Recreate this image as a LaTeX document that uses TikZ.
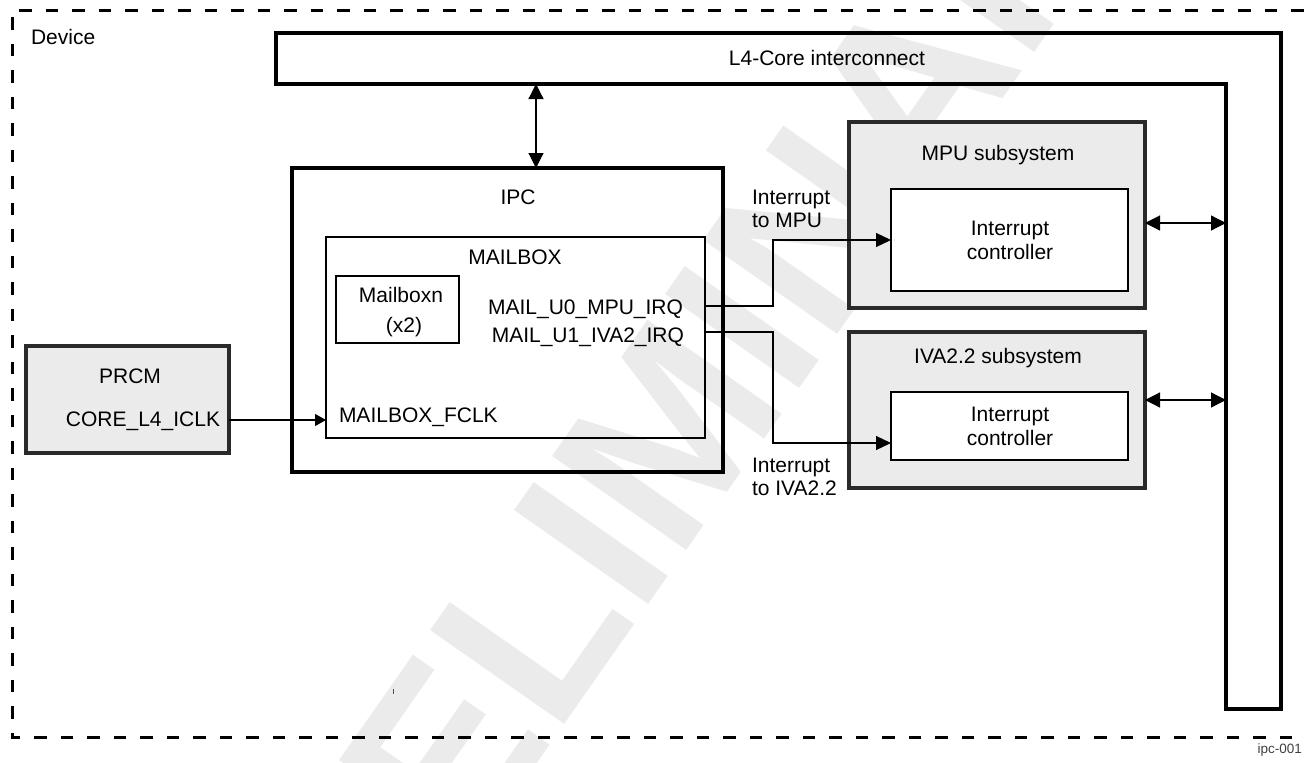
\documentclass[tikz,border=0pt]{standalone}
\usepackage{fontspec}
\setmainfont{Liberation Sans}
\usetikzlibrary{arrows.meta}
\definecolor{wmgray}{HTML}{EBEBEB}
\definecolor{subfill}{HTML}{EBEBEB}
\definecolor{subedge}{HTML}{2A2A2A}
\tikzset{
  lbl/.style={inner sep=0pt, outer sep=0pt, font=\fontsize{21}{23}\selectfont},
  lbltwo/.style={inner sep=0pt, outer sep=0pt, font=\fontsize{21}{24}\selectfont},
  boxthick/.style={draw=black, line width=3.5pt, inner sep=0pt, outer sep=0pt},
  boxmid/.style={draw=black, line width=2.6pt, inner sep=0pt, outer sep=0pt},
  boxthin/.style={draw=black, line width=2.2pt, inner sep=0pt, outer sep=0pt},
  subbox/.style={draw=subedge, fill=subfill, line width=3.5pt, inner sep=0pt, outer sep=0pt},
  icbox/.style={draw=black, fill=white, line width=2.5pt, inner sep=0pt, outer sep=0pt},
  sig/.style={line width=1.2pt, -{Triangle[length=15pt,width=14pt]}},
  sigsmall/.style={line width=1.2pt, -{Triangle[length=11pt,width=12pt]}},
  dbl/.style={line width=1.2pt, {Triangle[length=15pt,width=15pt]}-{Triangle[length=15pt,width=15pt]}},
  devline/.style={line width=3pt, dash pattern=on 12.5pt off 14pt},
  l4line/.style={line width=4pt, line join=miter},
  wmark/.style={anchor=base west, rotate=55, inner sep=0pt, text=wmgray, font=\fontsize{238}{238}\selectfont\bfseries},
}
\begin{document}
\begin{tikzpicture}[x=1pt,y=-1pt]
\useasboundingbox (0,0) rectangle (1304,763);
% watermark
\begin{scope}
\clip (0,0) rectangle (1304,763);
\node[wmark] (wm) at (275,1138) {PRELIMINARY};
\end{scope}
% device border
\draw[devline] (1292,737) -- (12,737) -- (12,10) -- (1304,10);
\node[lbl, anchor=base west] (devlbl) at (31,44) {Device};
% L4 interconnect
\draw[l4line] (276,33) -- (1281,33) -- (1281,709) -- (1226,709) -- (1226,84) -- (276,84) -- cycle;
\node[lbl, anchor=base] (l4lbl) at (827,65) {L4-Core interconnect};
\coordinate (l4ipc) at (536,84);
\coordinate (l4in) at (1226,0);
% IPC
\node[boxthick, minimum width=431pt, minimum height=304pt] (ipc) at (507.5,320) {};
\node[lbl, anchor=base] (ipclbl) at (518,204) {IPC};
\node[boxmid, minimum width=379pt, minimum height=201pt] (mailbox) at (515.5,337.5) {};
\node[lbl, anchor=base] (mblbl) at (515,264) {MAILBOX};
\node[boxthin, minimum width=123pt, minimum height=67pt] (mbn) at (397.5,309.5) {};
\node[lbl, anchor=base] (mbnlbl) at (401,302) {Mailboxn};
\node[lbl, anchor=base] (x2lbl) at (404,332) {(x2)};
\node[lbl, anchor=base east] (irq0) at (683,314) {MAIL\_U0\_MPU\_IRQ};
\node[lbl, anchor=base east] (irq1) at (684,342) {MAIL\_U1\_IVA2\_IRQ};
\node[lbl, anchor=base west] (fclk) at (339,422) {MAILBOX\_FCLK};
% PRCM
\node[subbox, minimum width=203pt, minimum height=107pt] (prcm) at (127.5,399.5) {};
\node[lbl, anchor=base] (prcmlbl) at (130,383) {PRCM};
\node[lbl, anchor=base] (iclk) at (143,426) {CORE\_L4\_ICLK};
% MPU subsystem
\node[subbox, minimum width=296pt, minimum height=186pt] (mpu) at (997,215) {};
\node[lbl, anchor=base] (mpulbl) at (998,160) {MPU subsystem};
\node[icbox, minimum width=237pt, minimum height=102pt] (mpuic) at (1009.5,240) {};
\node[lbltwo, align=center] (mpuictxt) at (1010,240.5) {Interrupt\\controller};
% IVA subsystem
\node[subbox, minimum width=296pt, minimum height=156pt] (iva) at (997,410) {};
\node[lbl, anchor=base] (ivalbl) at (998,363) {IVA2.2 subsystem};
\node[icbox, minimum width=237pt, minimum height=68pt] (ivaic) at (1009.5,426) {};
\node[lbltwo, align=center] (ivaictxt) at (1010,426.5) {Interrupt\\controller};
% labels of interrupts
\node[lbl, align=left, anchor=west] (intmpu) at (752,209) {Interrupt\\to MPU};
\node[lbl, align=left, anchor=west] (intiva) at (752,477) {Interrupt\\to IVA2.2};
% connector coordinates
\coordinate (tapA) at (705,306);
\coordinate (tapB) at (705,332);
\coordinate (tapC) at (0,443);
\coordinate (xv) at (773,0);
\coordinate (clk) at (0,420);
\coordinate (r1) at (0,223);
\coordinate (r2) at (0,400);
% connectors
\draw[dbl] (l4ipc) -- (l4ipc |- ipc.north);
\draw[sigsmall] (prcm.east |- clk) -- (mailbox.west |- clk);
\draw[sig] (mailbox.east |- tapA) -- (tapA -| xv) |- (mpuic.west);
\draw[sig] (mailbox.east |- tapB) -- (tapB -| xv) |- (ivaic.west |- tapC);
\draw[dbl] (mpu.east |- r1) -- (l4in |- r1);
\draw[dbl] (iva.east |- r2) -- (l4in |- r2);
% small mark
\draw[line width=0.8pt, black!70] (393,689) -- (393,694);
% figure id
\node[anchor=base east, inner sep=0pt, font=\fontsize{13.5}{15}\selectfont, text=black!75] (figid) at (1302,753) {ipc-001};
\end{tikzpicture}
\end{document}
